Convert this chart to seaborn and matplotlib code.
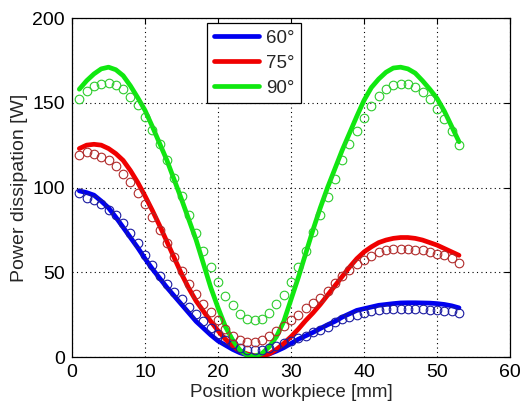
import numpy as np
import pandas as pd
import matplotlib
matplotlib.use("Agg")
import matplotlib.pyplot as plt
import seaborn as sns

# Workpiece positions [mm]
position = list(range(1, 54))

# Simulated power dissipation [W] (solid lines)
sim_60 = [98, 97, 95.5, 92, 88, 82.5, 76.5, 70.5, 64.5, 58, 52, 46.5, 41, 36, 31,
          26, 21, 17, 13, 9.5, 7, 4.5, 2.5, 1.2, 0.5, 0.8, 1.8, 3.5, 5.5, 8,
          10.5, 12.5, 14.5, 16.8, 19, 21, 23.5, 25.5, 27.5, 28.5, 29.5, 30.5, 31, 31.5,
          31.9, 32, 32, 31.9, 31.8, 31.5, 31, 30.2, 29]
sim_75 = [123, 125, 125.5, 125, 123, 120, 116, 110, 103, 95, 86.5, 77.5, 68, 58.5, 49,
          40.5, 33, 27, 21, 15.5, 10.5, 6.5, 3.5, 1.8, 0.8, 0.6, 1.8, 4.5, 8, 12,
          16.5, 21.5, 26, 31, 36.5, 42, 47.5, 53, 58, 62, 65, 67.5, 69, 70,
          70.5, 70.5, 70, 69, 67.5, 66, 64, 62, 60]
sim_90 = [158, 163, 167, 170, 171, 169.5, 166, 160, 153, 145.5, 136, 126, 116, 104.5, 93,
          81, 69, 55, 41, 29, 18, 10, 4, 1, 0.5, 2, 6, 12, 21, 34,
          47, 61, 75, 88, 100, 111, 122, 132, 142, 151.5, 159, 164, 168, 170.5,
          171, 170, 167.5, 163, 158, 152.5, 145, 136, 127]

# Measured power dissipation [W] (open circles)
meas_60 = [96.5, 94, 92.5, 90, 87, 83.5, 79, 73, 67, 60, 54, 48, 43, 38.5, 34,
           29.5, 25.5, 21.5, 17, 13.5, 10, 7.5, 5.5, 4.3, 4, 4.3, 5.2, 6.7, 8.1, 9.6,
           11.2, 12.6, 14.5, 16, 17.8, 20.5, 22.3, 23.6, 25, 26.2, 27.2, 28, 28.6, 28.6,
           28.6, 28.6, 28.6, 28.4, 28, 28, 27.2, 27.2, 26]
meas_75 = [119, 121, 120, 118, 116, 112.6, 108, 103, 97, 90, 82.6, 75, 67, 59, 51,
           43.3, 37.4, 31.5, 26.6, 21.7, 16.5, 12.5, 10, 9, 9, 10, 12.5, 15.5, 18.5, 21.8,
           25, 28.7, 32, 35, 38.7, 43.5, 47.6, 51.2, 55, 57.5, 59.4, 61.8, 63, 63.8,
           63.8, 63.8, 63.4, 63, 62, 61, 60, 58.5, 55.7]
meas_90 = [152, 157, 160, 161, 161.5, 160.5, 158, 153.5, 148.5, 141.5, 134, 125.5, 116, 105.5, 95,
           84, 73, 62.5, 53, 44, 36, 30.5, 25.6, 22.7, 21.7, 22.7, 26, 31, 36.4, 44,
           53, 62.6, 73.8, 83.6, 94.5, 105, 116, 125.5, 133.6, 141, 148, 154, 158, 160.6,
           161.2, 161.2, 159.4, 156.3, 152, 146.4, 140.3, 133.2, 125]

angles = ["60°", "75°", "90°"]
line_colors = ["#0000f0", "#f00000", "#10e810"]
circle_colors = ["#1a1aa0", "#b02a2a", "#2ccc2c"]

sim_df = pd.DataFrame({
    "pos": position * 3,
    "power": sim_60 + sim_75 + sim_90,
    "angle": [a for a in angles for _ in position],
})
meas = [meas_60, meas_75, meas_90]

sns.set_theme(style="white")
plt.rcParams["font.family"] = ["Liberation Sans", "DejaVu Sans"]

fig = plt.figure(figsize=(5.2, 4.05), dpi=100)
ax = fig.add_axes([0.1385, 0.1185, 0.8425, 0.8370])

sns.lineplot(data=sim_df, x="pos", y="power", hue="angle", palette=line_colors,
             linewidth=3.4, ax=ax, legend=True, zorder=2)

for vals, c in zip(meas, circle_colors):
    sns.lineplot(x=position, y=vals, ax=ax, linestyle="none", marker="o",
                 markersize=6.2, markerfacecolor="none", markeredgecolor=c,
                 markeredgewidth=0.8, legend=False, zorder=3)

ax.set_xlim(0, 60)
ax.set_ylim(0, 200)
ax.set_xticks(np.arange(0, 61, 10))
ax.set_yticks(np.arange(0, 201, 50))
ax.grid(True, color="black", linestyle=(0, (1, 3)), linewidth=0.8)
ax.tick_params(direction="in", length=4, width=0.8, labelsize=14,
               top=True, right=True, colors="black", pad=5)
for s in ax.spines.values():
    s.set_visible(True)
    s.set_color("black")
    s.set_linewidth(0.9)

ax.set_xlabel("Position workpiece [mm]", fontsize=13.5, labelpad=2)
ax.set_ylabel("Power dissipation [W]", fontsize=14, labelpad=3)

leg = ax.legend(loc="upper left", bbox_to_anchor=(0.308, 0.985), fontsize=13.5,
                frameon=True, fancybox=False, framealpha=1, edgecolor="black",
                handlelength=2.4, handletextpad=0.4, labelspacing=0.42,
                borderpad=0.35, borderaxespad=0)
for h in leg.get_lines():
    h.set_linewidth(3.4)
leg.get_frame().set_linewidth(0.9)

fig.savefig("out.png", dpi=100, facecolor="white")
